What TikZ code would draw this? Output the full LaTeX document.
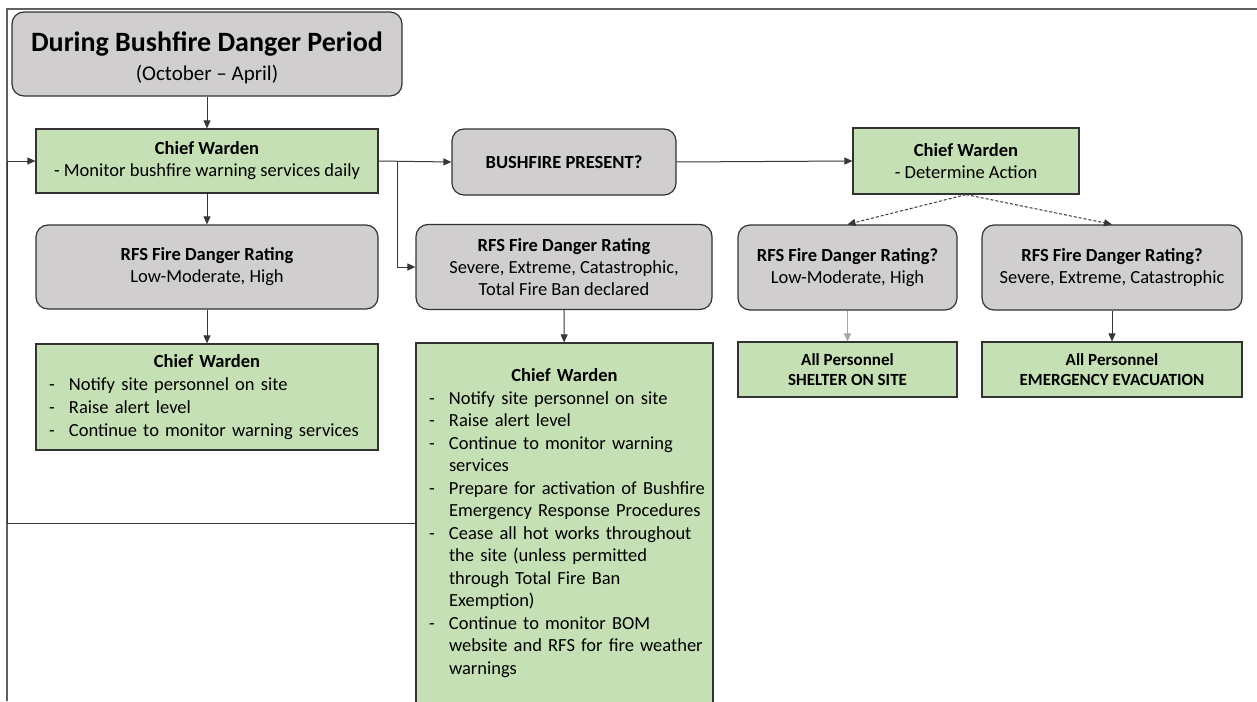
\documentclass[tikz,border=0pt]{standalone}
\usepackage{fontspec}
\setmainfont{Carlito}
\usetikzlibrary{arrows.meta}
\definecolor{greyfill}{RGB}{208,206,206}
\definecolor{greenfill}{RGB}{197,224,180}
\definecolor{boxline}{RGB}{50,50,50}
\definecolor{wirecol}{RGB}{55,55,55}
\newlength{\dashpad}\setlength{\dashpad}{7pt}
\newlength{\dashhang}\setlength{\dashhang}{27pt}
\newcommand{\dashline}[1]{\par\hangindent=\dashhang\hangafter=1\noindent\makebox[\dashhang][l]{\hspace{\dashpad}-}#1\par}
\tikzset{greybox/.style={draw=boxline, fill=greyfill, line width=1.2pt,
    rounded corners=12pt, align=center, inner sep=0pt,
    font=\fontsize{18.5}{22}\selectfont}}
\tikzset{greenbox/.style={draw=boxline, fill=greenfill, line width=1.2pt,
    align=center, inner sep=0pt, font=\fontsize{18.5}{22}\selectfont}}
\tikzset{flowarr/.style={draw=wirecol, line width=1pt,
    -{Triangle[length=8pt,width=7pt]}}}
\tikzset{lightarr/.style={flowarr, draw=gray!70, fill=wirecol}}
\tikzset{dasharr/.style={flowarr, dash pattern=on 3pt off 2pt}}
\tikzset{framel/.style={draw=gray!75!black, line width=2.8pt}}

\begin{document}
\begin{tikzpicture}[x=1pt,y=-1pt]
    \useasboundingbox (0,0) rectangle (1257,701);
    \draw[framel] (1257,9) -- (7,9) -- (7,701);

    % left column
    \node[greybox, minimum width=390, minimum height=84] (title) at (207,54)
      {{\fontsize{28}{32}\selectfont\bfseries\rule{0pt}{28pt}During Bushfire Danger Period}\\[7pt]
       {\fontsize{21}{25}\selectfont (October \textendash\ April)}};
    \node[greenbox, minimum width=342, minimum height=64] (cw1) at (207,161)
      {\textbf{Chief Warden}\\- Monitor bushfire warning services daily};
    \node[greybox, minimum width=342, minimum height=84] (rfs1) at (207,267)
      {\textbf{RFS Fire Danger Rating}\\Low-Moderate, High};
    \node[greenbox, align=left, text width=330, inner xsep=6, minimum height=106] (cw2) at (207,397)
      {\fontsize{18.5}{23}\selectfont
       \centerline{\bfseries Chief Warden}
       \dashline{Notify site personnel on site}
       \dashline{Raise alert level}
       \dashline{Continue to monitor warning services}};

    % middle column
    \node[greybox, minimum width=224, minimum height=66] (bp) at (564,162)
      {\textbf{BUSHFIRE PRESENT?}};
    \node[greybox, minimum width=296, minimum height=85] (rfs2) at (564,267)
      {\textbf{RFS Fire Danger Rating}\\Severe, Extreme, Catastrophic,\\Total Fire Ban declared};
    \node[greenbox, align=left, text width=285, inner xsep=6, minimum height=360] (cw3) at (564.5,523)
      {\fontsize{18.5}{22.5}\selectfont
       \centerline{\bfseries Chief Warden}
       \dashline{Notify site personnel on site}
       \dashline{Raise alert level}
       \dashline{Continue to monitor warning\newline services}
       \dashline{Prepare for activation of Bushfire\newline Emergency Response Procedures}
       \dashline{Cease all hot works throughout\newline the site (unless permitted\newline through Total Fire Ban\newline Exemption)}
       \dashline{Continue to monitor BOM\newline website and RFS for fire weather\newline warnings}};

    % right column
    \node[greenbox, minimum width=226, minimum height=66] (cw4) at (966,161)
      {\textbf{Chief Warden}\\- Determine Action};
    \node[greybox, minimum width=219, minimum height=85] (rfs3) at (847.5,267.5)
      {\textbf{RFS Fire Danger Rating?}\\Low-Moderate, High};
    \node[greybox, minimum width=260, minimum height=85] (rfs4) at (1112,267.5)
      {\textbf{RFS Fire Danger Rating?}\\Severe, Extreme, Catastrophic};
    \node[greenbox, minimum width=219, minimum height=55, font=\fontsize{17}{20}\selectfont\bfseries] (ap1) at (847.5,369.5)
      {All Personnel\\SHELTER ON SITE};
    \node[greenbox, minimum width=260, minimum height=55, font=\fontsize{17}{20}\selectfont\bfseries] (ap2) at (1112,369.5)
      {All Personnel\\EMERGENCY EVACUATION};

    % connectors
    \coordinate (split) at (397,161);
    \coordinate (back) at (7,523);
    \draw[flowarr] (title) -- (cw1);
    \draw[flowarr] (cw1) -- (rfs1);
    \draw[flowarr] (rfs1) -- (cw2);
    \draw[flowarr] (cw1.east) -- (bp.west);
    \draw[flowarr] (split) |- (rfs2.west);
    \draw[flowarr] (rfs2) -- (cw3);
    \draw[flowarr] (bp.east) -- (cw4.west);
    \draw[dasharr] (cw4.south) -- (rfs3.north);
    \draw[dasharr] (cw4.south) -- (rfs4.north);
    \draw[lightarr] (rfs3) -- (ap1);
    \draw[flowarr] (rfs4) -- (ap2);
    \draw[flowarr] (cw3.west) -- (back) |- (cw1.west);
\end{tikzpicture}
\end{document}
